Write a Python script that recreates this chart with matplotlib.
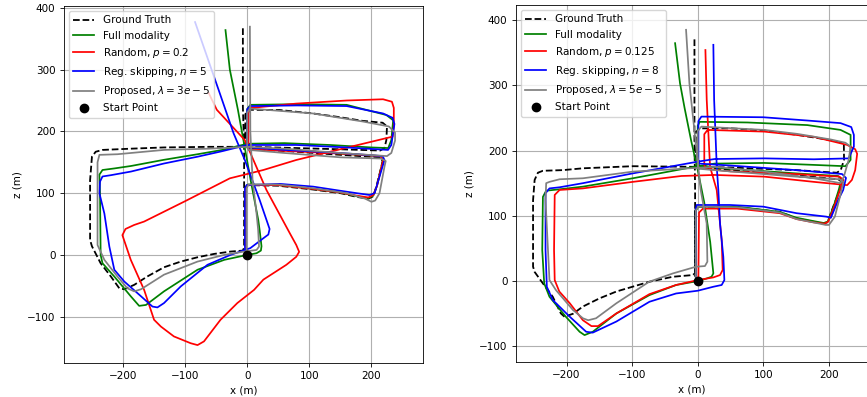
import matplotlib
matplotlib.use("Agg")
import matplotlib.pyplot as plt
import numpy as np

# ---------------- data: left panel ----------------
gt_left = [(0, 0), (-3, 8), (-3, 60), (-3, 108), (0, 113), (50, 112), (105, 106), (150, 100), (176, 94),
           (195, 91), (203, 95), (208, 111), (214, 135), (218, 152), (214, 158), (150, 162), (80, 167),
           (0, 172), (-3, 178), (-3, 228), (2, 235), (52, 234.6), (106, 229), (149, 223), (186, 217),
           (218, 214), (225, 208), (224, 186), (221, 173), (214, 169), (150, 171), (80, 173), (0, 175),
           (-60, 175), (-134, 174), (-187, 172), (-233, 170), (-244, 167), (-250, 159), (-253, 121),
           (-253, 24), (-250, 14), (-236, -13.5), (-219.5, -35), (-206, -54), (-198, -55.6), (-182, -48.5),
           (-161, -35), (-134, -20), (-107, -10.8), (-80, -3.8), (-53.5, 1.6), (-27, 5.4), (-7, 7),
           (-5, 12), (-5, 175), (-7, 240), (-7, 370)]

full_left = [(0, 0), (-2, 10), (-2, 108), (1, 114), (50, 113), (105, 107), (150, 101), (176, 95), (195, 92),
             (203, 96), (209, 112), (215, 138), (219, 154), (214, 160), (150, 164), (70, 170), (2, 174),
             (0, 180), (0, 236), (5, 243), (80, 244), (160, 243), (224, 226.5), (235, 218), (232, 186),
             (227, 173), (200, 174), (133, 178), (60, 181), (0, 180), (-40, 170), (-80, 163), (-134, 154),
             (-187, 144), (-214, 140), (-233, 137.5), (-238, 130), (-237, 100), (-236, 0), (-233, -13.5),
             (-214, -35), (-187.5, -67), (-174, -82.5), (-163, -81), (-134, -59), (-80, -24), (-37, -8),
             (0, 0), (15, 2.7), (22, 7), (23, 14), (20, 40), (17.7, 57), (5.5, 121), (-15, 235),
             (-28, 300), (-35, 364)]

rand_left = [(0, 0), (-2, 10), (-2, 108), (1, 113), (50, 113), (105, 107), (150, 101), (176, 96), (195, 93),
             (203, 97), (209, 112), (215, 138), (219, 154), (214, 160), (150, 164), (70, 168), (4, 171),
             (2, 178), (2, 230), (6, 238), (79, 245), (160, 250), (218.7, 252), (233, 248), (236, 238),
             (236, 208), (234, 191.5), (133, 167), (79, 153.7), (26, 137.5), (-28, 124), (-100, 87),
             (-166, 54), (-182, 48.5), (-196, 42), (-201, 32), (-187.5, -8), (-166, -56.6), (-150, -105),
             (-139, -116), (-118, -132), (-91, -143), (-80, -146), (-69.6, -140), (-43, -105), (-16, -78),
             (11, -56.6), (26, -40), (63, -16), (79, -3), (83.6, 5), (79, 16), (68.6, 35), (31, 105),
             (-4, 186), (-49, 235), (-62, 262)]

skip_left = [(0, 0), (-3.7, 10), (-3.7, 108), (-1, 113), (52.6, 115), (106, 110.6), (149, 104), (176, 100),
             (197, 97), (205, 100), (213, 126.7), (221, 153.7), (218, 160), (150, 165), (60, 170), (2, 174),
             (0, 180), (0, 236), (5, 241), (80, 242), (160, 241), (218.7, 229), (234, 222), (237, 212),
             (232, 178), (226.7, 170), (160, 174), (79, 178), (0, 178), (-40, 168), (-80, 159), (-134, 148),
             (-187, 135), (-220, 129), (-233, 127), (-237, 118.7), (-238, 100), (-230, 67), (-222, 13.5),
             (-214, -24), (-198, -43), (-171, -67), (-152.6, -83.6), (-144.6, -85), (-134, -78),
             (-107, -51), (-64, -16), (-27, 0), (5, 11), (26, 27), (34, 33), (36, 42), (20, 89),
             (-4, 154), (-22, 197), (-46, 267), (-84, 377)]

prop_left = [(0, 0), (-1, 10), (-1, 108), (2, 114), (50, 114), (106, 108), (160, 100), (190, 91), (200, 86),
             (206, 88), (213, 100), (221, 143), (223, 152), (215, 156), (150, 158), (60, 165), (2, 170),
             (0, 176), (0, 230), (4, 237), (106, 229), (186, 216), (228, 208), (238, 198), (238, 185),
             (232, 165), (225, 160), (150, 165), (60, 172), (0, 175), (-60, 172), (-134, 170), (-209, 163),
             (-238, 162), (-241, 150), (-241, 121), (-241, 16), (-230, -8), (-209, -35), (-193, -54),
             (-182, -59), (-171, -55.6), (-134, -32), (-80, -10.8), (-37, 0), (-5, 5.4), (15, 8),
             (19, 13.5), (17.6, 40.5), (15, 67), (8.6, 121), (5, 200), (4.3, 369.5)]

# ---------------- data: right panel ----------------
gt_right = [(0, 0), (-4, 8), (-4, 108), (0, 114), (3.5, 114), (74.5, 111.5), (125, 106), (150.6, 96),
            (176, 91), (191, 88.4), (198, 90), (206.5, 114), (216.6, 139.6), (220, 152), (214, 156),
            (150, 162), (50, 170), (0, 174), (-3, 180), (-3, 228), (3, 234), (51, 234), (101.5, 230.6),
            (152, 224), (202.5, 216), (222.7, 211), (223, 186), (218, 170), (212, 166), (150, 170),
            (50, 174), (0, 175), (-99, 176), (-175, 172.8), (-205.5, 170), (-236, 169), (-243.6, 166),
            (-248.6, 155), (-251, 124), (-251, 22), (-248.6, 14), (-236, -3.6), (-221, -24),
            (-208.6, -49.6), (-203, -54.7), (-190, -50), (-175, -39), (-150, -26.6), (-124, -16),
            (-73.6, -1), (-38, 6.6), (-7.7, 9.2), (-4, 12), (-4, 140), (-5, 216), (-5, 370.7)]

full_right = [(0, 0), (-3, 8), (-3, 108), (1, 114), (60, 114), (125, 106), (150.6, 97), (176, 92), (192, 89),
              (198, 91), (207, 114), (215, 140), (219, 156), (214, 161), (150, 165), (50, 172), (3, 176),
              (0, 182), (0, 238), (3, 244), (76, 243), (167, 239), (217.7, 231.6), (233, 224), (233, 185.6),
              (225, 176), (177, 178), (101.5, 181), (25.8, 180), (0, 176), (-99, 157.5), (-175, 144.7),
              (-210.6, 140.6), (-231, 138.5), (-236, 129), (-237, 47.5), (-234, -3.6), (-226, -24),
              (-201, -54.7), (-180, -77.7), (-172.5, -82.8), (-160, -77.7), (-124, -49.6), (-73.6, -21.5),
              (-33, -6), (0, 0), (13.7, 4), (21, 6.6), (23.8, 11.8), (19, 60), (10, 120), (0, 170),
              (-10, 215), (-20, 265), (-27, 303), (-34.5, 364.5)]

rand_right = [(0, 0), (1, 8), (2, 105), (8, 111), (60, 111), (125, 104), (150.6, 95), (176, 90), (193, 88),
              (199, 91), (208, 114), (217, 140), (222, 155), (216, 160), (150, 164), (50, 168), (12, 172),
              (10, 178), (10, 225), (15, 231.6), (101.5, 229), (177, 221), (227.8, 208.6), (240, 202),
              (243, 195), (240, 170), (235, 155), (227.8, 147), (177, 152), (101.5, 160), (25.8, 162.6),
              (-25, 161), (-99, 152), (-175, 142), (-210.6, 139.6), (-218, 132), (-219, 47.5),
              (-218, 1.5), (-211, -16), (-195, -34), (-175, -60), (-162, -69), (-152, -69), (-124, -49.6),
              (-73.6, -20), (-33, -6), (0, 1.5), (23.8, 5.6), (34, 9.2), (38, 17), (36.5, 63),
              (28.9, 139.6), (18.8, 175), (13.7, 277.6), (11.7, 354)]

skip_right = [(0, 0), (-3, 8), (-3, 110), (-1.6, 116.6), (49, 116.6), (100, 114), (150.6, 104), (196, 98.7),
              (203, 97), (214, 124), (221.7, 139.6), (226, 158), (220, 164), (150, 170), (50, 177), (2, 180),
              (1, 186), (1, 245), (5.6, 252), (100, 251), (167, 246), (217.7, 242), (234, 236), (238, 224),
              (238, 206), (230, 188), (177, 186.6), (101.5, 188), (25.8, 187), (0, 183), (-99, 165),
              (-175, 150), (-210.6, 143.7), (-226, 142), (-232, 134.5), (-232, 47.5), (-230, -8.7),
              (-221, -29), (-195, -54.7), (-170, -77.7), (-160, -79), (-124, -62), (-73.6, -31.7),
              (-33, -19), (0, -14.8), (23.8, -8.7), (36.5, -6), (40.6, 1.5), (39, 37), (34, 88),
              (31.4, 139.6), (29, 175), (25, 277.6), (23.8, 362)]

prop_right = [(0, 0), (-3, 8), (-3, 108), (1, 114), (60, 113), (125, 105), (150.6, 95), (176, 90), (195, 86),
              (200, 86), (209, 98.7), (217, 130), (222, 152), (216, 156), (150, 160), (50, 168), (2, 172),
              (0, 178), (0, 230), (5.6, 236.7), (101.5, 231.6), (152, 225.5), (202.5, 217), (225, 212),
              (233, 206), (230, 185.6), (222.7, 160), (217.7, 150), (177, 157.5), (101.5, 167.7),
              (25.8, 175), (-99, 167.7), (-175, 157.5), (-210.6, 156), (-226, 152), (-231, 150),
              (-232, 124), (-226, 1.5), (-216, -14), (-190, -44.5), (-175, -57), (-167, -60), (-155, -57),
              (-124, -34), (-74, -1), (-38, 11.7), (-2.6, 22), (11, 23), (14.7, 29.7), (13.6, 88.4),
              (4.5, 139.6), (-5, 230), (-12.7, 303), (-17.8, 385)]

labels_left = ["Ground Truth", "Full modality", r"Random, $p=0.2$", r"Reg. skipping, $n=5$",
               r"Proposed, $\lambda=3e-5$", "Start Point"]
labels_right = ["Ground Truth", "Full modality", r"Random, $p=0.125$", r"Reg. skipping, $n=8$",
                r"Proposed, $\lambda=5e-5$", "Start Point"]
xticks = [-200, -100, 0, 100, 200]
yticks = [-100, 0, 100, 200, 300, 400]
start_point = (0, 0)

FS = 7.5
fig = plt.figure(figsize=(8.67, 3.97), dpi=100)
W, H = 867, 397


def make_axes(l, r, t, b):
    return fig.add_axes([l / W, (H - b) / H, (r - l) / W, (b - t) / H])


ax1 = make_axes(64, 423, 6, 363)
ax2 = make_axes(516, 867, 5, 362)


def draw(ax, series, labels, xlim, ylim):
    colors = ["green", "red", "blue", "gray"]
    gt = np.array(series[0])
    ax.plot(gt[:, 0], gt[:, 1], "k--", lw=1.3, label=labels[0])
    for s, c, lab in zip(series[1:], colors, labels[1:5]):
        a = np.array(s)
        ax.plot(a[:, 0], a[:, 1], color=c, lw=1.25, label=lab)
    ax.plot([start_point[0]], [start_point[1]], "ko", ms=6, label=labels[5], linestyle="none")
    ax.set_xlim(*xlim)
    ax.set_ylim(*ylim)
    ax.set_xticks(xticks)
    ax.set_yticks(yticks)
    ax.grid(True, color="#b0b0b0", lw=0.8)
    ax.set_axisbelow(True)
    ax.tick_params(labelsize=FS, length=2.6, width=0.6)
    for sp in ax.spines.values():
        sp.set_linewidth(0.6)
    ax.set_xlabel("x (m)", fontsize=FS, labelpad=3)
    ax.set_ylabel("z (m)", fontsize=FS, labelpad=3)
    ax.legend(loc="upper left", fontsize=FS)


draw(ax1, [gt_left, full_left, rand_left, skip_left, prop_left], labels_left, (-295, 283), (-175, 403))
draw(ax2, [gt_right, full_right, rand_right, skip_right, prop_right], labels_right, (-277, 258), (-124, 423))

fig.savefig("out.png", dpi=100)
